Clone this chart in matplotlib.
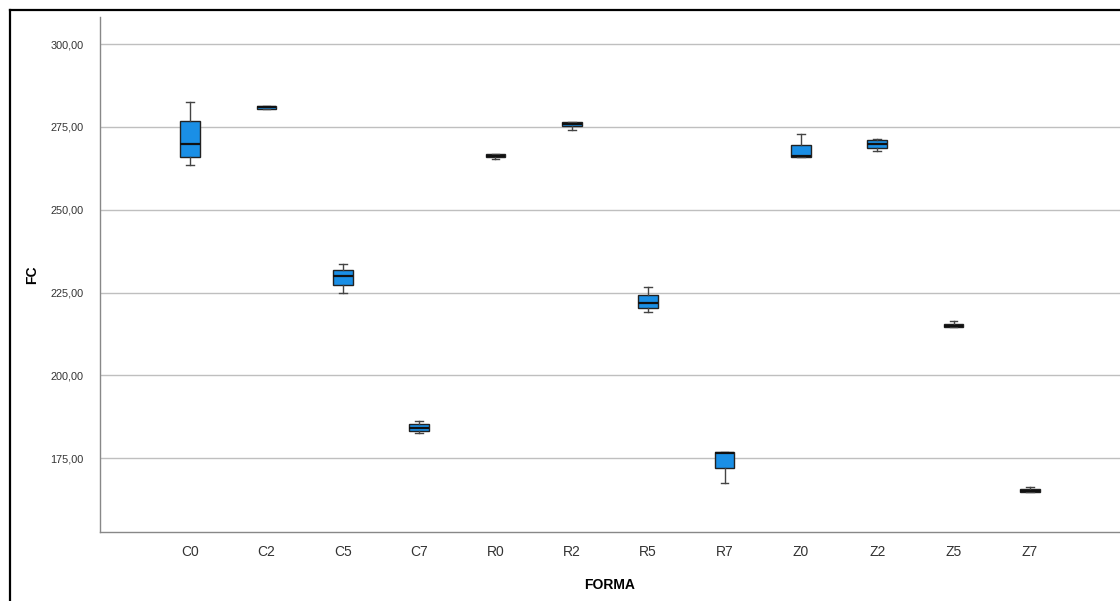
import matplotlib.pyplot as plt
from matplotlib.lines import Line2D

plt.rcParams['font.family'] = ['Liberation Sans', 'DejaVu Sans']

# Box plot summary per FORMA group
formas = ['C0', 'C2', 'C5', 'C7', 'R0', 'R2', 'R5', 'R7', 'Z0', 'Z2', 'Z5', 'Z7']
whislo = [263.5, 280.5, 224.9, 182.5, 265.2, 274.2, 219.0, 167.4, 266.0, 267.8, 214.5, 164.8]
q1 =     [266.0, 280.5, 227.4, 183.2, 265.8, 275.2, 220.4, 172.0, 266.0, 268.5, 214.5, 164.8]
med =    [269.8, 280.9, 230.0, 184.2, 266.2, 275.8, 221.9, 176.7, 266.1, 270.0, 214.9, 165.1]
q3 =     [276.7, 281.4, 231.8, 185.4, 266.7, 276.5, 224.4, 176.9, 269.7, 271.0, 215.6, 165.8]
whishi = [282.5, 281.4, 233.6, 186.3, 266.7, 276.6, 226.7, 176.9, 272.9, 271.3, 216.3, 166.2]
yticks = [175, 200, 225, 250, 275, 300]

stats = []
for i, name in enumerate(formas):
    stats.append(dict(label=name, whislo=whislo[i], q1=q1[i], med=med[i],
                      q3=q3[i], whishi=whishi[i], fliers=[]))

fig = plt.figure(figsize=(11.2, 6.01), dpi=100)
ax = fig.add_axes([100 / 1120, 1 - 532 / 601, 1 - 100 / 1120, (532 - 17) / 601])

ax.bxp(stats, positions=range(len(formas)), widths=0.26, capwidths=0.1,
       patch_artist=True, showfliers=False,
       boxprops=dict(facecolor='#1a8fe6', edgecolor='#222222', linewidth=1.0),
       medianprops=dict(color='#111111', linewidth=1.6),
       whiskerprops=dict(color='#444444', linewidth=1.0),
       capprops=dict(color='#444444', linewidth=1.0))

ax.set_xlim(-1.18, 12.18)
ax.set_ylim(152.7, 308.2)
ax.set_yticks(yticks)
ax.set_yticklabels([f'{v:.2f}'.replace('.', ',') for v in yticks])
ax.grid(True, axis='y', color='#bfbfbf', linewidth=1.0)
ax.set_axisbelow(True)
ax.tick_params(axis='y', length=0, labelsize=7.8, labelcolor='#333333', pad=12)
ax.tick_params(axis='x', length=0, labelsize=10, labelcolor='#333333', pad=9)

for side in ['top', 'right']:
    ax.spines[side].set_visible(False)
for side in ['left', 'bottom']:
    ax.spines[side].set_color('#888888')
    ax.spines[side].set_linewidth(1.0)

ax.set_ylabel('FC', fontsize=10, fontweight='bold', labelpad=8)
ax.set_xlabel('FORMA', fontsize=10, fontweight='bold', labelpad=14)

# outer frame (cropped on right and bottom)
fig.add_artist(Line2D([10 / 1120, 10 / 1120], [0, 1 - 10 / 601], color='black', linewidth=1.6,
                      transform=fig.transFigure))
fig.add_artist(Line2D([10 / 1120, 1], [1 - 10 / 601, 1 - 10 / 601], color='black', linewidth=1.6,
                      transform=fig.transFigure))

plt.savefig('out.png', dpi=100)
plt.close()
